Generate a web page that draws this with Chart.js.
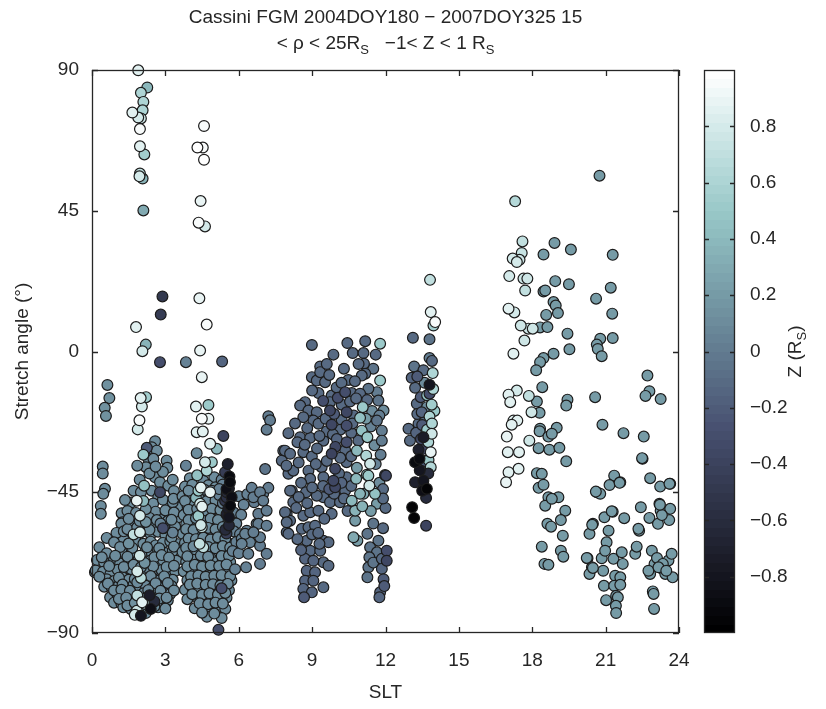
<!DOCTYPE html>
<html><head><meta charset="utf-8">
<script src="https://cdn.jsdelivr.net/npm/chart.js@4.4.1/dist/chart.umd.min.js"></script>
<style>html,body{margin:0;padding:0;background:#fff;}canvas{display:block;}</style>
</head><body>
<canvas id="c" width="826" height="709"></canvas>
<script>
// ---- tick labels ----
const xTicks = [0,3,6,9,12,15,18,21,24];
const yTicks = [-90,-45,0,45,90];
const zTicks = [-0.8,-0.6,-0.4,-0.2,0,0.2,0.4,0.6,0.8];

// ---- data: [SLT (h), stretch angle (deg), Z (R_S)] ----
const clusterDawn = [
[1.89,89.9,0.85],[2.26,84.4,0.4],[2.0,82.7,0.6],[2.1,79.8,0.6],[1.65,76.4,0.85],[2.07,77.1,0.6],[1.89,74.8,0.8],[2.0,74.5,0.75],[1.96,71.1,0.95],[1.96,65.6,0.85],[2.14,63,0.55],[1.96,56.9,0.7],[1.94,56,0.8],[2.07,55.3,0.35],[2.1,45.1,0.3],[2.88,17.6,-0.5],[2.81,11.8,-0.45],[1.8,7.8,0.85],[2.2,2.2,0.35],[2.06,0.1,0.8],
[2.78,-3.4,-0.3],[0.63,-10.7,0.15],[0.71,-14.9,0.15],[0.52,-18,0.15],[0.57,-20.6,0.15],[1.99,-14.9,0.85],[2.21,-14.6,0.55],[2.04,-17.6,0.8],[1.94,-22,0.95],[1.87,-24.9,0.8],
[2.58,-28.7,0.1],[2.44,-30.6,0.1],[2.24,-30.8,-0.2],[2.1,-33,0.5],[2.44,-32.2,0.1],[2.65,-31.7,0.1],[2.3,-34.3,0.1],[2.51,-34.3,0.1],[2.21,-37,0.1],[3.05,-34.9,0.1],[3.08,-37.2,0.1],[2.58,-40.2,0.1],[2.78,-41.8,0.1],[3.12,-42.9,0.1],[2.13,-42.9,0.45],[2.44,-44.5,0.1],[2.71,-46.6,0.1],[3.46,-47.1,0.1],[3.12,-49.3,0.1],[3.49,-49.8,0.1],[2.3,-49.3,0.1],[2.51,-52.5,0.1],[2.85,-53,0.1],[3.19,-52.5,0.1],[3.53,-53,0.1],[2.78,-45,-0.35],[2.9,-56.5,-0.3],
[0.44,-36.8,0.1],[0.44,-39,0.1],[0.53,-43.9,0.1],[0.46,-45.5,0.1],[0.36,-49.4,0.1],[0.36,-51.9,0.1],[1.21,-51.7,0.1],[1.24,-54.6,0.1],[0.12,-70.6,0.1],[1.12,-66,0.1],[1.48,-69,0.1],
[1.01,-60.2,0.1],[1.28,-59.9,0.1],[1.62,-53.5,0.1],[1.83,-47.7,0.9],[1.96,-52.5,0.8],[1.96,-57.8,0.8],
[1.6,-48.3,0.1],[2.1,-47.8,0.4],[2.5,-48.6,0.1],[2.9,-47.4,0.1],[3.3,-48.2,0.1],[1.45,-51,0.1],[1.8,-51.6,0.1],[2.2,-50.4,0.15],[2.6,-51.2,0.1],[3.0,-50.8,0.1],[3.35,-51.5,0.1],
[1.2,-55,0.1],[1.6,-55.5,0.1],[2.2,-54.5,0.15],[2.5,-55.8,0.1],[2.8,-55,0.05],[3.1,-54.2,0.1],[3.4,-56,0.1],
[0.6,-59.6,0.1],[1.0,-58,0.1],[1.3,-57.5,0.1],[1.7,-58.5,0.7],[2.0,-57.8,0.1],[2.4,-58.4,0.1],[2.7,-57.6,0.1],[3.0,-58.6,0.1],[3.3,-57.9,0.05],
[0.3,-62.6,0.1],[0.9,-61,0.1],[1.5,-61.4,0.15],[1.8,-60.6,0.1],[2.1,-61.5,0.1],[2.4,-60.8,0.1],[2.6,-62,0.1],[2.9,-61.2,0.1],[3.2,-60.7,0.1],[3.5,-61.6,0.1],
[0.2,-66.7,0.1],[0.6,-64.5,0.1],[1.2,-64,0.1],[1.7,-64.7,0.1],[1.95,-65.3,0.75],[2.2,-63.8,0.1],[2.45,-64.6,0.1],[2.7,-63.6,0.1],[3.0,-64.4,0.1],[3.3,-63.8,0.1],
[0.15,-70,0.1],[0.5,-67.5,0.1],[0.9,-66.6,0.1],[1.15,-67.8,0.1],[1.5,-67,0.1],[1.9,-66.5,0.1],[2.15,-67.6,0.15],[2.4,-66.8,0.1],[2.65,-67.3,0.1],[2.9,-66.7,0.1],[3.2,-67.5,0.1],[3.45,-66.9,0.1],
[0.45,-70.4,0.1],[0.75,-71.2,0.1],[1.05,-69.8,0.1],[1.35,-70.6,0.1],[1.6,-69.6,0.1],[1.85,-70.3,0.8],[2.1,-70.8,0.1],[2.35,-69.7,0.1],[2.6,-70.5,0.1],[2.85,-69.9,0.1],[3.1,-70.7,0.1],[3.4,-70.2,0.1],
[0.6,-72.8,0.1],[0.9,-73.4,0.1],[1.25,-72.2,0.1],[1.5,-73,0.1],[2.0,-72.4,0.65],[2.25,-73.1,0.1],[2.5,-72.6,0.1],[2.75,-73.2,0.1],[3.0,-72.5,0.1],[3.3,-73,0.1],
[0.5,-75.2,0.1],[0.8,-75.4,0.1],[1.1,-74.8,0.1],[1.4,-75.6,0.1],[1.7,-74.6,0.1],[1.95,-75.3,0.1],[2.2,-74.9,0.1],[2.45,-75.7,0.1],[2.7,-74.7,0.1],[2.95,-75.4,0.1],[3.25,-75,0.1],
[0.74,-78.6,0.1],[1.0,-77.2,0.1],[1.28,-77.8,0.1],[1.6,-77.4,0.1],[1.85,-78,0.7],[2.1,-77.3,0.1],[2.35,-77.9,-0.75],[2.6,-77.2,0.1],[2.9,-78,0.1],[3.2,-77.5,0.1],
[0.9,-80.3,0.1],[1.2,-80.6,0.1],[1.5,-79.8,0.1],[1.75,-80.4,0.15],[2.05,-80.2,0.85],[2.3,-80.8,0.1],[2.55,-79.9,-0.6],[2.85,-80.5,0.1],[3.1,-79.6,0.1],
[1.28,-81.8,0.1],[1.6,-82.4,0.1],[1.83,-82.9,0.75],[2.17,-80.7,0.65],[2.4,-82.3,-0.85],[2.7,-81.8,0.1],[3.0,-82.2,0.1],
[1.75,-84.2,0.8],[2.0,-84.5,-0.8],[2.2,-83.6,0.1],
[1.7,-44.5,0.1],[1.95,-41,0.1],[2.35,-39,0.1],[2.9,-38.5,0.1],[3.3,-41,0.1],[2.6,-36.8,0.1],[1.85,-36.5,0.1],[3.35,-44.6,0.1],[1.35,-47.5,0.1],[2.0,-45,0.1],
[1.45,-56.8,0.1],[1.85,-56.2,0.1],[2.35,-57,0.1],[2.95,-56.4,0.1],[3.25,-59.5,0.1],
[1.15,-62.5,0.1],[1.65,-62.8,0.1],[2.25,-62.6,0.1],[2.75,-62.9,0.1],[3.35,-62.4,0.1],
[0.4,-65.8,0.1],[0.95,-65.3,0.1],[1.45,-65.6,0.1],[2.55,-65.8,0.1],[2.85,-65.1,0.1],[3.15,-65.9,0.1],
[0.7,-68.6,0.1],[1.3,-68.9,0.1],[1.7,-68.2,0.1],[2.0,-69,0.1],[2.5,-68.7,0.1],[3.05,-68.9,0.1],[3.35,-68.5,0.1],
[0.3,-72,0.1],[1.1,-72.3,0.1],[1.75,-72.7,0.1],[2.4,-71.8,0.1],[2.95,-71.9,0.1],
[0.65,-74.2,0.1],[1.25,-74.5,0.1],[1.85,-73.8,0.1],[2.6,-74.1,0.1],[3.1,-74,0.1],
[0.9,-76.4,0.1],[1.2,-76.2,0.1],[1.55,-76.5,0.1],[2.3,-76.3,0.1],[2.8,-76.5,0.1],[3.35,-76.4,0.1],
[1.1,-79.1,0.1],[1.4,-78.7,0.1],[2.2,-78.9,0.1],[2.75,-79,0.1],[3.05,-78.7,0.1],
[1.45,-81.2,0.1],[1.95,-81.6,0.1],[2.55,-81.5,0.1],
[1.5,-53.5,0.1],[1.95,-54.2,0.1],[2.35,-53.2,0.1],[2.65,-53.9,0.1],[3.25,-53.8,0.1]
];

const clusterMorning = [
[4.58,72.1,0.95],[4.31,65.2,1.0],[4.53,65.2,0.95],[4.58,61.3,1.0],[4.44,48.1,0.9],[4.36,41.2,0.95],[4.62,40,0.8],[4.39,17,0.9],[4.69,8.6,0.95],[4.42,0.3,0.9],[4.49,-8.2,0.9],[5.32,-3.2,-0.15],[3.84,-3.4,0.05],
[4.25,-17.6,0.85],[4.76,-17.1,0.5],[4.49,-21.5,0.95],[4.76,-21.5,0.9],[4.28,-25.8,0.85],[4.53,-25.6,0.85],[5.37,-27,-0.4],[4.83,-29.5,0.85],[5.1,-31.1,0.4],[4.28,-32.5,0.1],[3.84,-36.5,0.05],[4.62,-35.4,0.8],[4.9,-35.4,0.5],
[4.69,-38.1,0.6],[4.55,-41.3,0.1],[4.35,-44.5,0.5],[4.83,-45,0.9],[4.42,-48.7,0.8],[4.69,-53,0.1],[4.49,-56.2,0.7],[4.55,-62.6,0.7],[3.87,-51.4,0.1],[3.33,-47.1,0.1],
[4.0,-40.5,0.1],[4.3,-39.6,0.45],[5.0,-40.2,0.1],[5.3,-41,0.05],
[3.8,-43.2,0.1],[4.1,-42.6,0.1],[4.45,-43.5,0.85],[4.75,-42.8,0.1],[5.05,-43.4,0.1],[5.35,-42.5,0.05],
[3.7,-46.3,0.1],[4.0,-45.7,0.1],[4.25,-46.8,0.4],[4.6,-46.2,0.1],[4.9,-47.1,0.1],[5.2,-45.9,0.05],[6.0,-46.3,0.05],[6.35,-45.6,0.05],
[3.9,-49.2,0.1],[4.2,-48.8,0.1],[4.5,-49.6,0.85],[4.8,-48.9,0.1],[5.1,-49.4,0.1],[5.35,-48.5,0.0],[6.2,-49,0.05],
[3.75,-52.3,0.1],[4.05,-51.7,0.1],[4.35,-52.6,0.5],[4.65,-52.1,0.1],[4.95,-51.6,0.1],[5.25,-52.4,0.1],[5.8,-51.5,0.05],[6.1,-52.2,0.05],
[3.85,-55.2,0.1],[4.15,-54.6,0.1],[4.45,-55.5,0.75],[4.75,-54.8,0.1],[5.05,-55.4,0.1],[5.35,-54.7,0.1],[5.9,-55,0.05],
[3.7,-58.3,0.1],[4.0,-57.6,0.1],[4.3,-58.4,0.1],[4.6,-57.8,0.1],[4.9,-58.6,0.1],[5.2,-57.9,0.1],[5.8,-57.5,0.05],[6.05,-58.4,0.05],
[3.8,-61.2,0.1],[4.1,-60.6,0.1],[4.4,-61.5,0.7],[4.7,-60.8,0.1],[5.0,-61.3,0.1],[5.3,-60.7,0.1],[5.6,-61.4,0.1],[5.9,-60.9,0.05],
[3.7,-64.1,0.1],[4.0,-63.6,0.1],[4.3,-64.5,0.1],[4.6,-63.9,0.1],[4.9,-64.6,0.1],[5.15,-63.7,0.1],[5.45,-64.3,0.1],[5.75,-63.8,0.05],[6.0,-64.5,0.05],
[3.85,-67.2,0.1],[4.15,-66.6,0.1],[4.45,-67.5,0.1],[4.75,-66.8,0.1],[5.05,-67.4,0.1],[5.35,-66.7,0.1],[5.65,-67.3,0.1],
[3.75,-70.3,0.1],[4.05,-69.7,0.1],[4.35,-70.5,0.1],[4.65,-69.9,0.1],[4.95,-70.6,0.1],[5.25,-69.8,0.1],[5.55,-70.4,0.1],[5.85,-69.6,0.05],
[3.9,-73.1,0.1],[4.2,-72.6,0.1],[4.5,-73.5,0.1],[4.8,-72.8,0.1],[5.1,-73.4,0.1],[5.4,-72.7,0.1],[5.7,-73.2,0.1],
[3.8,-76.2,0.1],[4.1,-75.6,0.1],[4.4,-76.5,0.1],[4.7,-75.8,0.1],[5.0,-76.4,0.1],[5.3,-75.7,-0.3],[5.6,-76.3,0.1],
[3.9,-79.2,0.1],[4.3,-78.6,0.1],[4.6,-79.5,0.1],[4.9,-78.8,0.1],[5.2,-79.4,0.1],[5.5,-78.7,0.1],
[4.2,-82.1,0.1],[4.55,-81.6,0.1],[4.85,-82.4,0.1],[5.15,-81.8,0.1],[5.45,-82.3,0.1],
[4.7,-84.8,0.1],[5.3,-85.2,0.1],[5.17,-89,-0.3],
[3.95,-44.5,0.1],[4.6,-44.2,0.1],[4.9,-44.5,0.1],[5.2,-44,0.05],
[3.8,-47.8,0.1],[4.4,-47.2,0.1],[4.7,-47.8,0.1],[5.05,-47.6,0.1],
[3.95,-50.6,0.1],[4.3,-50.3,0.1],[4.6,-50.8,0.1],[4.9,-50.3,0.1],[5.25,-50.7,0.1],
[3.95,-53.9,0.1],[4.25,-53.3,0.1],[4.55,-54.1,0.1],[4.85,-53.4,0.1],[5.15,-53.9,0.1],
[3.85,-56.8,0.1],[4.15,-57.1,0.1],[4.75,-56.4,0.1],[5.05,-56.9,0.1],[5.35,-56.1,0.1],
[3.95,-59.8,0.1],[4.25,-60,0.1],[4.55,-59.5,0.1],[4.85,-60.1,0.1],[5.15,-59.4,0.1],[5.45,-59.9,0.1],
[3.85,-62.8,0.1],[4.15,-62.3,0.1],[4.75,-62.5,0.1],[5.05,-62.9,0.1],[5.35,-62.2,0.1],[5.65,-62.7,0.1],
[3.9,-65.5,0.1],[4.45,-65.2,0.1],[4.75,-65.6,0.1],[5.3,-65.4,0.1],[5.6,-65.3,0.1],
[3.9,-68.7,0.1],[4.2,-68.2,0.1],[4.5,-68.8,0.1],[4.85,-68.4,0.1],[5.2,-68.6,0.1],[5.5,-68.1,0.1],
[4.05,-71.9,0.1],[4.35,-71.6,0.1],[4.65,-72,0.1],[5.0,-71.7,0.1],[5.3,-71.5,0.1],[5.65,-71.8,0.1],
[4.0,-74.5,0.1],[4.3,-74.2,0.1],[4.65,-74.6,0.1],[4.95,-74.4,0.1],[5.25,-74.8,0.1],[5.55,-74.3,0.1],
[4.1,-77.6,0.1],[4.5,-77.8,0.1],[4.8,-77.3,0.1],[5.15,-77.7,0.1],[5.45,-77.2,0.1],
[4.4,-80.5,0.1],[4.75,-80.8,0.1],[5.05,-80.3,0.1],[5.35,-80.6,0.1],
[4.5,-83.5,0.1],[5.0,-83.8,0.1],
[5.44,-38.6,-0.45],[5.55,-36,-0.7],[5.62,-40,-0.9],[5.64,-41.8,-0.9],[5.6,-43.8,-0.75],[5.5,-44,-0.85],[5.51,-45,-0.6],[5.5,-46.6,-0.55],[5.71,-46.6,-0.85],[5.44,-47.7,-0.5],[5.65,-49.3,-0.9],[5.57,-50.3,-0.75],[5.5,-52,-0.7],[5.6,-53,-0.8],[5.6,-55.6,-0.65],[5.45,-57,-0.6],[5.5,-58.2,-0.45]
];

const clusterBridge = [
[7.21,-20.7,0.0],[7.28,-22,0.0],[7.14,-25,0.0],[7.08,-37.6,-0.05],[6.53,-43.6,0.0],[6.63,-48.2,0.0],[7.0,-45.5,0.0],[7.21,-43.6,0.0],[6.73,-55.1,0.0],[6.87,-62.1,0.0],[7.14,-64.7,0.0],[6.87,-67.9,0.0],[6.33,-57.3,0.05],[6.12,-59.9,0.05],[6.6,-46.6,0.0],[6.87,-45,0.0],[7.0,-47.7,0.0],[6.8,-51.9,0.0],[7.14,-50.9,0.0],[6.8,-55.1,0.0],[7.14,-55.7,0.0],[6.87,-59.4,0.0],[6.6,-57.8,0.0],[6.46,-61,0.05],[6.26,-58.3,0.05],[6.12,-61.5,0.05],[6.39,-64.7,0.05],[6.3,-69,0.05],[7.82,-31.7,-0.1],[7.76,-34.9,-0.1],[8.03,-39.1,-0.1],[8.17,-44.5,-0.1],[7.96,-51.9,-0.1],[8.1,-54.1,-0.1],[7.96,-57.8,-0.1]
];

const clusterNoon = [
[8.99,2.1,-0.1],[10.44,2.7,-0.1],[11.17,3.3,-0.1],[11.78,2.5,0.5],[9.87,-1,-0.1],[10.66,-0.5,-0.1],[11.1,-0.5,-0.1],[11.12,-3.9,-0.1],[9.33,-4.8,-0.1],[11.17,-7.1,-0.1],[10.48,-9.1,-0.1],[11.78,-9.3,0.5],[11.03,-7.7,-0.1],[8.99,-8.2,-0.1],[9.19,-9.3,-0.1],[9.33,-6.6,-0.1],[9.53,-9.8,-0.1],[9.26,-13.3,-0.1],[9.8,-14.1,-0.1],[10.62,-13.3,-0.1],[11.3,-11.9,-0.05],[11.65,-13,0.0],[10.96,-13.5,-0.1],
[8.71,-16.2,-0.1],[8.51,-17.3,-0.1],[8.85,-18.9,-0.1],[9.19,-19.4,-0.1],[9.73,-16.2,-0.1],[10.21,-17,-0.1],[9.73,-18.9,-0.35],[10.41,-19.4,-0.35],[11.07,-17.8,0.5],[11.71,-15.7,-0.05],[11.92,-18.9,0.1],[10.21,-21.9,-0.1],[10.96,-21.2,0.45],[9.05,-22.1,-0.1],[8.64,-21,-0.1],[9.26,-23.1,-0.1],[9.8,-23.4,-0.35],[10.41,-23.7,-0.3],[11.03,-25.3,0.45],[11.65,-22.1,-0.05],[11.85,-25.3,0.0],
[8.03,-26.1,-0.1],[8.51,-27.4,-0.1],[8.92,-27.6,-0.1],[9.46,-28.5,-0.1],[10.01,-28,-0.15],[10.41,-29,-0.3],[10.89,-28.5,-0.1],[11.26,-27.4,0.5],[11.85,-28.5,0.0],[7.89,-31.7,-0.1],[8.1,-32.7,-0.1],[8.64,-32.2,-0.1],[8.99,-33.6,-0.1],[9.8,-32.7,-0.4],[10.35,-31.5,-0.1],[10.83,-31.7,0.4],[11.21,-33.3,0.6],[11.37,-35.9,0.75],[11.98,-39.5,-0.3],[10.41,-35.4,-0.1],[10.83,-37.2,0.2],[11.24,-39.4,0.45],[9.94,-37.5,-0.35],[9.39,-37,-0.1],[8.85,-38.1,-0.1],[8.23,-38.1,-0.1],
[8.92,-40.7,-0.1],[9.46,-40.2,-0.1],[9.94,-43.4,-0.35],[10.41,-40.2,-0.1],[10.8,-40.7,0.4],[11.3,-39.7,0.5],[11.34,-42.9,0.75],[11.57,-45.5,0.45],[11.65,-48.7,0.2],[12.02,-39.7,-0.35],[8.1,-44.5,-0.1],[8.23,-48.2,-0.1],[7.89,-51.4,-0.1],[7.96,-54.6,-0.1],[8.03,-58.3,-0.1],[8.64,-52.5,-0.1],[8.92,-51.4,-0.1],[9.26,-50.9,-0.1],[9.46,-46.6,-0.1],[9.73,-48.2,-0.1],[9.19,-46.1,-0.1],
[8.58,-56.7,-0.1],[8.85,-56.2,-0.1],[9.12,-55.7,-0.1],[9.46,-60.5,-0.1],[9.67,-61,-0.1],[8.78,-60.5,-0.1],[8.92,-63.7,-0.1],[9.33,-63.7,-0.1],[8.71,-66.3,-0.15],[9.05,-66.9,-0.15],[9.46,-67.4,-0.1],[9.67,-68.5,-0.1],[8.78,-70.1,-0.15],[9.12,-70.6,-0.15],[8.71,-73.3,-0.15],[9.05,-73.3,-0.15],[9.46,-75.4,-0.1],[8.64,-75.9,-0.15],[8.99,-77,-0.15],[8.67,-78.6,-0.2],
[10.69,-59.4,0.3],[10.85,-60.5,0.2],[11.26,-58.3,-0.05],[11.71,-60.5,-0.05],[12.05,-63.7,-0.3],[11.37,-62.6,-0.05],[11.65,-64.2,-0.05],[11.34,-65.8,-0.05],[11.85,-66.3,-0.1],[12.05,-66.9,-0.35],[11.3,-69,-0.05],[11.85,-69.5,-0.15],[11.26,-72.2,-0.05],[11.92,-72.8,-0.2],[11.78,-77,-0.15],[11.75,-78.6,-0.15],
[10.62,-47.7,0.4],[10.76,-50.9,0.35],[10.76,-54.1,0.2],[10.96,-45.5,0.35],[10.14,-48.2,-0.1],[9.8,-51.9,-0.1],[10.35,-44.5,-0.1],[9.87,-41.3,-0.35],
[8.3,-23,-0.1],[8.4,-29,-0.1],[8.8,-24.5,-0.1],[9.6,-25.5,-0.1],[9.9,-20,-0.2],[10.15,-25,-0.1],[10.6,-26,-0.1],[10.7,-20.5,-0.1],[10.55,-16,-0.1],[11.45,-19,0.1],[11.4,-24,0.05],[11.55,-30,0.1],[11.8,-33,0.0],[11.6,-36,0.05],[10.6,-33.5,-0.1],[10.15,-34,-0.1],[9.6,-35,-0.1],[9.2,-31,-0.1],[9.15,-36,-0.1],[8.45,-35.5,-0.1],[8.55,-42,-0.1],[8.75,-45,-0.1],[9.0,-43.5,-0.1],[9.7,-44,-0.2],[10.1,-39,-0.1],[10.6,-43,-0.1],[11.1,-45.5,0.3],[11.9,-44,-0.1],[12.0,-50,-0.1],[11.4,-51,0.2],[11.05,-49.5,0.35],[10.45,-51,-0.1],[8.45,-46.5,-0.1],[8.35,-50,-0.1],[9.5,-53.5,-0.1],[9.0,-58.5,-0.1],[8.4,-60,-0.1],[9.25,-58,-0.1],[9.3,-61.5,-0.1],[8.55,-63.5,-0.15],[11.5,-55,-0.05],[11.9,-56.5,-0.1],[11.5,-67.5,-0.05],[11.95,-75,-0.2],[10.0,-11.5,-0.1],[10.3,-5.5,-0.1],[10.75,-9.5,-0.1],[11.5,-5.5,-0.05],[11.6,-1,-0.1],[9.6,-4,-0.1],[9.0,-12.5,-0.1],[11.25,-15.5,-0.1],[9.45,-15.8,-0.3],[10.05,-14.8,-0.3],[7.95,-36.5,-0.1],[8.7,-29.8,-0.1],[9.3,-27,-0.1],[9.95,-30.5,-0.35],[10.2,-42,-0.15],[11.75,-42,0.1],[11.9,-47,-0.1],
[9.7,-7.5,-0.1],[10.2,-10,-0.1],[10.9,-4,-0.1],[9.85,-26.5,-0.1],[10.35,-13,-0.3],[10.8,-15,-0.1],[9.55,-21.5,-0.1],[10.65,-23,-0.1],[11.2,-21.5,0.2],[11.75,-20.5,0.0],[9.9,-45.5,-0.1],[9.45,-43,-0.1],[8.8,-48.5,-0.1],[10.3,-47,-0.1]
];

const clusterAfternoon = [
[13.82,22.9,0.7],[13.85,12.6,0.85],[14.03,9.4,0.95],[13.96,8.3,0.55],[13.12,4.4,-0.1],[13.8,3.9,-0.05],[13.8,-2.1,0.0],[13.17,-4.8,-0.05],[13.07,-8.4,-0.15],[13.3,-8,-0.2],[13.93,-6.9,0.6],[13.8,-10.6,-0.8],[13.21,-11.6,-0.1],[13.44,-14.6,-0.2],[13.28,-16.7,-0.1],[13.48,-19.4,-0.15],[13.35,-23.1,-0.1],[13.8,-13.5,-0.3],[13.69,-17.8,0.1],[13.89,-17,0.55],[13.8,-20.8,0.6],[13.89,-26.3,0.75],[13.85,-32.2,0.9],[13.76,-34.7,0.5],[13.85,-37,0.65],[13.55,-27.4,-0.75],[13.55,-31.1,-0.3],[13.35,-31.4,-0.7],[12.94,-24.7,-0.1],[13.0,-28.5,-0.1],[13.21,-35.4,-0.9],[13.39,-34.3,-0.9],[13.21,-41.8,-0.7],[13.55,-41.3,-0.8],[13.69,-43.9,-0.95],[13.66,-46.8,-0.6],[13.09,-49.8,-0.95],[13.17,-53.2,-0.95],[13.66,-55.7,-0.4],
[13.6,-10,0.1],[13.7,-14,0.45],[13.6,-21,-0.1],[13.9,-23,0.6],[13.7,-25,0.5],[13.5,-23.5,-0.2],[13.75,-29,0.6],[13.6,-35,-0.2],[13.4,-38,-0.8],[13.5,-44.5,-0.85],[13.25,-26,-0.15],[13.45,-28,-0.3],[13.3,-20,-0.1],[13.95,-12,0.6],[14.0,-19,0.5],[13.55,-6,-0.1],[13.9,-3,-0.1],[13.75,-39,-0.6]
];

const clusterDusk = [
[17.3,48,0.65],[17.6,35.2,0.7],[17.57,31.5,0.72],[17.2,29.7,0.8],[17.48,29.3,0.78],[17.37,28.6,0.8],[18.91,34.7,0.2],[18.46,31,0.2],[19.58,32.6,0.2],[17.06,24.1,0.8],[17.64,23.3,0.75],[17.8,23.3,0.75],[18.94,22.5,0.2],[19.5,21.5,0.2],[17.71,19.5,0.7],[18.46,19.2,0.2],[18.53,19.5,0.2],[17.03,13.7,0.85],[17.27,12.5,0.8],[18.87,15.8,0.2],[18.96,14.7,0.2],[19.05,12.3,0.2],[18.57,11.7,0.2],[17.53,8.3,0.78],[17.84,7.3,0.75],[18.02,7.3,0.75],[18.32,7.7,0.2],[18.62,7.8,0.2],[17.68,3.5,0.75],[19.44,5.7,0.2],[19.52,0.7,0.2],[17.23,-0.7,0.85],[18.87,-0.7,0.2],[18.46,-2.1,0.2],[18.32,-3.4,0.2],[18.16,-6,0.2],[18.41,-11.4,0.2],[17.03,-13.8,0.85],[17.37,-12.5,0.8],[17.1,-16.2,0.85],[17.86,-14.2,0.7],[18.19,-16,0.2],[17.97,-19.4,0.75],[18.3,-19.6,0.2],[19.44,-15.4,0.2],[19.39,-17.3,0.2],[17.23,-22.1,0.85],[17.39,-22.1,0.85],[17.16,-23.4,0.85],[18.32,-24.7,0.2],[18.3,-25.5,0.2],[18.66,-27.2,0.2],[19.0,-24.4,0.2],[18.8,-26.3,0.2],[16.96,-27.2,0.9],[17.88,-28.5,0.75],[18.26,-30.9,0.2],[18.7,-31.4,0.2],[19.11,-30.8,0.2],[17.0,-32.2,0.85],[17.46,-32.2,0.85],[19.39,-35.1,0.2],[17.44,-37.5,0.85],[17.03,-38.6,0.85],[16.93,-41.8,0.9],[18.19,-38.9,0.2],[18.39,-39.1,0.2],[18.26,-43.6,0.2],[18.46,-42.6,0.2],[18.66,-46.6,0.2],[19.07,-46.6,0.2],[18.53,-49.3,0.2],[18.8,-47.1,0.2],[19.35,-50.9,0.2],[18.62,-55.1,0.2],[18.77,-56,0.2],[19.17,-53.9,0.2],[19.25,-58.9,0.2],[18.39,-62.4,0.2],[18.5,-67.9,0.2],[18.66,-68.2,0.2],[19.17,-63.7,0.2],[19.27,-65.6,0.2]
];

const clusterNight = [
[20.75,56.2,0.2],[21.29,30.9,0.2],[21.21,20.4,0.2],[20.61,16.9,0.2],[21.27,12.1,0.2],[21.29,4.3,0.2],[20.78,4.1,0.2],[20.64,2.2,0.2],[20.68,0.8,0.2],[20.84,-1.5,0.2],[22.71,-7.7,0.2],[22.79,-12.7,0.2],[22.63,-14.2,0.2],[23.25,-15.2,0.2],[20.57,-14.6,0.2],[20.87,-23.4,0.2],[21.73,-26.1,0.2],[22.56,-27.2,0.2],[22.51,-34.3,0.2],[21.35,-39.7,0.2],[21.6,-41.8,0.2],[21.16,-42.7,0.2],[22.82,-40.5,0.2],[23.23,-43.2,0.2],[23.64,-42.3,0.2],[20.64,-45,0.2],[20.78,-45.5,0.2],[21.29,-51.2,0.2],[22.44,-49.8,0.2],[23.2,-48.7,0.2],[23.25,-50.9,0.2],[23.64,-50.3,0.2],[20.48,-55.1,0.2],[20.34,-58.3,0.2],[20.95,-53,0.2],[21.12,-57.3,0.2],[21.76,-53.3,0.2],[22.37,-57.3,0.2],[22.79,-53.2,0.2],[23.14,-55.1,0.2],[23.6,-53.9,0.2],
[20.26,-66.1,0.2],[20.44,-69,0.2],[20.34,-71.1,0.2],[20.84,-66.1,0.2],[21.04,-61,0.2],[20.98,-63.7,0.2],[21.32,-66.3,0.2],[21.66,-64.2,0.2],[21.7,-67.9,0.2],[20.9,-70.1,0.2],[21.39,-71.7,0.2],[21.6,-72.2,0.2],[20.93,-74.9,0.2],[21.35,-74.9,0.2],[21.6,-74.6,0.2],[21.02,-79.5,0.2],[21.43,-78.1,0.2],[21.5,-78.6,0.2],[21.42,-81.3,0.2],[21.43,-83.6,0.2],[22.21,-64.7,0.2],[22.27,-62.4,0.2],[22.34,-56.7,0.2],[22.89,-63.7,0.2],[23.0,-67.9,0.2],[23.1,-66,0.2],[22.82,-71.1,0.2],[23.3,-69.4,0.2],[23.44,-71.1,0.2],[23.57,-66.8,0.2],[23.7,-64.7,0.2],[23.74,-72.2,0.2],[22.93,-76.7,0.2],[22.96,-77.5,0.2],[22.98,-82.3,0.2],[23.34,-67.9,0.2],[20.23,-66,0.2],[20.48,-69.2,0.2],[22.75,-70.1,0.2],[23.16,-69,0.2],[23.48,-70.1,0.2],[20.45,-55.4,0.2],[21.25,-51.1,0.2],[20.6,-44.8,0.2],[22.49,-34.1,0.2],[21.57,-42,0.2],[23.61,-42.3,0.2],[23.3,-52.3,0.2],[23.22,-49,0.2]
];

// ---- bone-like colormap (64 levels), slightly more teal as in the reference ----
function boneRGB(i){
  const m=64, n=24, t=i/(m-1);
  const rh = i<n ? (i+1)/n : 1;
  const gh = i<n ? 0 : (i<2*n ? (i-n+1)/n : 1);
  const bh = i<2*n ? 0 : (i-2*n+1)/(m-2*n);
  const r = (7*t+bh)/8*(1-0.5*t*(1-t));
  return [r,(7*t+gh)/8,(7*t+rh)/8].map(v=>Math.round(255*Math.min(1,v)));
}
function zColor(z){
  const i=Math.max(0,Math.min(63,Math.floor((z+1)/2*64)));
  const c=boneRGB(i); return `rgb(${c[0]},${c[1]},${c[2]})`;
}

// draw order: the common mid-tone points first, distinct light/dark points on top
const allPoints = [].concat(clusterDawn, clusterMorning, clusterBridge, clusterNoon, clusterAfternoon, clusterDusk, clusterNight)
  .map(p=>({x:p[0], y:p[1], z:p[2]}))
  .sort((a,b)=>Math.abs(a.z-0.1)-Math.abs(b.z-0.1));

const FONT='"Liberation Sans", Arial, Helvetica, sans-serif';
const INK='#262626';
const minus = s => String(s).replace('-', '\u2212');

function drawSub(ctx, parts, cx, baseline){
  let w=0;
  parts.forEach(p=>{ctx.font=(p[1]?'13px ':'19px ')+FONT; w+=ctx.measureText(p[0]).width;});
  let x=cx-w/2;
  parts.forEach(p=>{ctx.font=(p[1]?'13px ':'19px ')+FONT; ctx.fillText(p[0], x, baseline+(p[1]?5:0)); x+=ctx.measureText(p[0]).width;});
}

const decor = {
  id:'decor',
  afterDatasetsDraw(chart){
    const {ctx, chartArea:a, scales} = chart;
    const xs=scales.x, ys=scales.y, zs=scales.z;
    ctx.save();
    ctx.strokeStyle=INK; ctx.lineWidth=1.3;
    ctx.beginPath();
    xTicks.forEach(v=>{const p=Math.round(xs.getPixelForValue(v))+0.5; ctx.moveTo(p,a.bottom); ctx.lineTo(p,a.bottom-6); ctx.moveTo(p,a.top); ctx.lineTo(p,a.top+6);});
    yTicks.forEach(v=>{const p=Math.round(ys.getPixelForValue(v))+0.5; ctx.moveTo(a.left,p); ctx.lineTo(a.left+6,p); ctx.moveTo(a.right,p); ctx.lineTo(a.right-6,p);});
    ctx.stroke();
    ctx.strokeRect(a.left+0.5, a.top+0.5, a.right-a.left-1, a.bottom-a.top-1);
    // colorbar
    const L=704, R=735;
    for(let i=0;i<64;i++){
      const y1=zs.getPixelForValue(-1+(i+1)*2/64), y2=zs.getPixelForValue(-1+i*2/64);
      ctx.fillStyle=zColor(-1+(i+0.5)*2/64);
      ctx.fillRect(L, Math.floor(y1), R-L, Math.ceil(y2)-Math.floor(y1));
    }
    ctx.beginPath();
    zTicks.forEach(v=>{const p=Math.round(zs.getPixelForValue(v))+0.5; ctx.moveTo(L,p); ctx.lineTo(L+5,p); ctx.moveTo(R,p); ctx.lineTo(R-5,p);});
    ctx.stroke();
    ctx.strokeRect(L+0.5, a.top+0.5, R-L-1, a.bottom-a.top-1);
    ctx.restore();
  },
  afterDraw(chart){
    const {ctx, chartArea:a} = chart;
    ctx.save();
    ctx.fillStyle=INK; ctx.textBaseline='alphabetic';
    const cx=(a.left+a.right)/2;
    ctx.font='19px '+FONT; ctx.textAlign='center';
    ctx.fillText('Cassini FGM 2004DOY180 \u2212 2007DOY325 15', cx, 23);
    ctx.textAlign='left';
    drawSub(ctx, [['< \u03c1 < 25R',0],['S',1],['   \u22121< Z < 1 R',0],['S',1]], cx, 49);
    ctx.textAlign='center'; ctx.font='19px '+FONT;
    ctx.fillText('SLT', cx, 698);
    ctx.save(); ctx.translate(28, (a.top+a.bottom)/2); ctx.rotate(-Math.PI/2);
    ctx.fillText('Stretch angle (\u00b0)', 0, 0); ctx.restore();
    ctx.save(); ctx.translate(801, (a.top+a.bottom)/2); ctx.rotate(-Math.PI/2);
    ctx.textAlign='left';
    drawSub(ctx, [['Z (R',0],['S',1],[')',0]], 0, 0);
    ctx.restore();
    ctx.restore();
  }
};

const tickFont={family:FONT, size:19};
new Chart(document.getElementById('c'), {
  type:'scatter',
  data:{datasets:[{
    data:allPoints,
    backgroundColor:ctx=>zColor(ctx.raw ? ctx.raw.z : 0),
    borderColor:'#1c1c1c', borderWidth:1.2, pointRadius:5.4, pointHoverRadius:5.4, clip:false
  }]},
  options:{
    responsive:false, devicePixelRatio:1, animation:false, events:[],
    layout:{padding:{top:70,left:0,right:0,bottom:0}, autoPadding:false},
    plugins:{legend:{display:false}, tooltip:{enabled:false}, title:{display:false}},
    scales:{
      x:{type:'linear', position:'bottom', min:0, max:24,
        afterBuildTicks:s=>{s.ticks=xTicks.map(v=>({value:v}));},
        afterFit:s=>{s.height=76; s.paddingLeft=0; s.paddingRight=0; s.paddingTop=0; s.paddingBottom=0;},
        grid:{display:false, drawTicks:false}, border:{display:false},
        ticks:{font:tickFont, color:INK, padding:16, maxRotation:0, autoSkip:false, callback:v=>minus(v)}},
      y:{type:'linear', position:'left', min:-90, max:90,
        afterBuildTicks:s=>{s.ticks=yTicks.map(v=>({value:v}));},
        afterFit:s=>{s.width=92; s.paddingLeft=0; s.paddingRight=0; s.paddingTop=0; s.paddingBottom=0;},
        grid:{display:false, drawTicks:false}, border:{display:false},
        ticks:{font:tickFont, color:INK, padding:13, autoSkip:false, callback:v=>minus(v)}},
      z:{type:'linear', position:'right', min:-1, max:1,
        afterBuildTicks:s=>{s.ticks=zTicks.map(v=>({value:v}));},
        afterFit:s=>{s.width=147; s.paddingLeft=0; s.paddingRight=0; s.paddingTop=0; s.paddingBottom=0;},
        grid:{display:false, drawTicks:false}, border:{display:false},
        ticks:{font:tickFont, color:INK, padding:71, autoSkip:false, callback:v=>Math.abs(v)<1e-9?'0':minus(v.toFixed(1))}}
    }
  },
  plugins:[decor]
});
</script>
</body></html>
